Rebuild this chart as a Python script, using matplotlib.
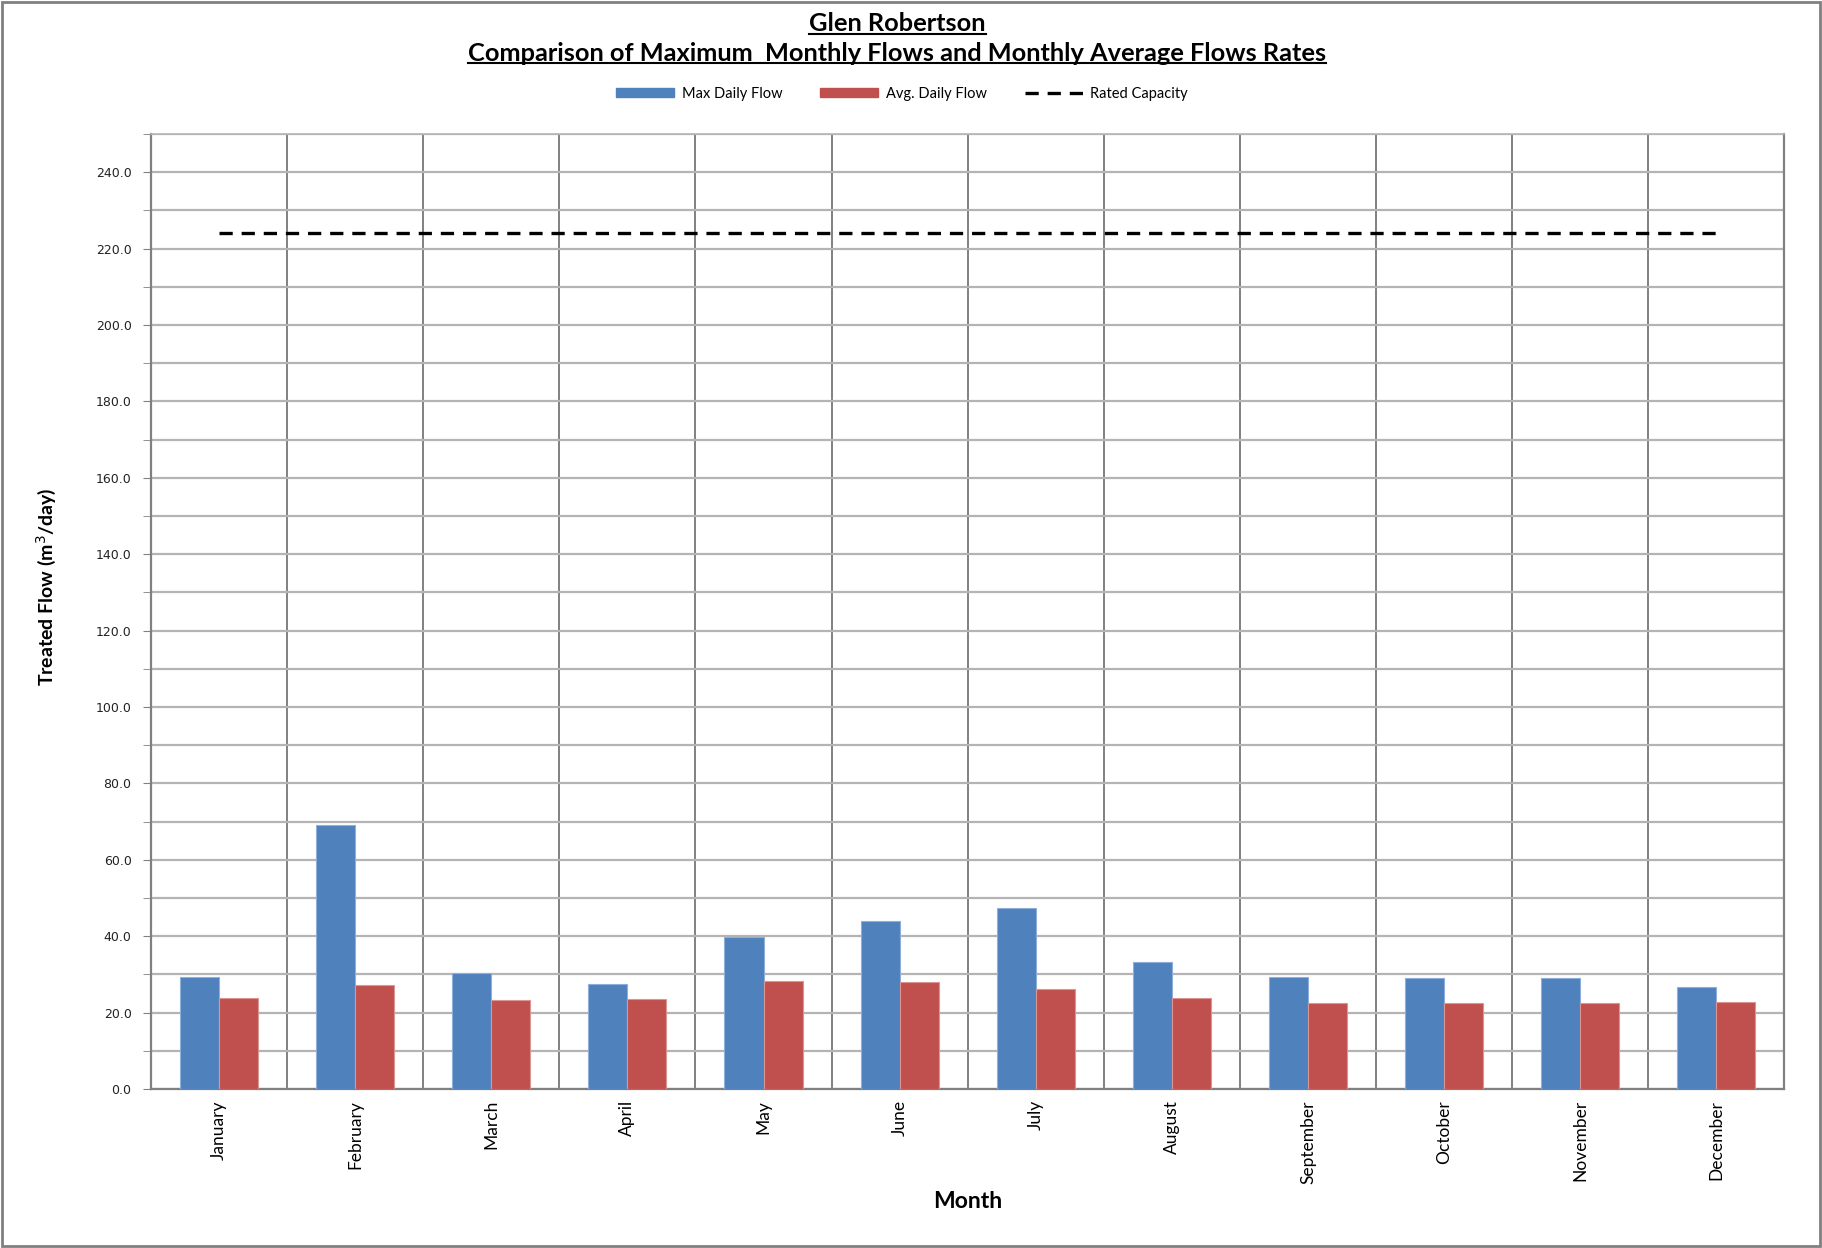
import matplotlib
matplotlib.use("Agg")
import matplotlib.pyplot as plt
import numpy as np
from matplotlib.patches import Patch, Rectangle
from matplotlib.lines import Line2D
from matplotlib.ticker import MultipleLocator, FormatStrFormatter

months = ["January", "February", "March", "April", "May", "June", "July",
          "August", "September", "October", "November", "December"]
max_daily_flow = [29.4, 69.2, 30.4, 27.6, 39.9, 44.1, 47.5, 33.2, 29.4, 29.1, 29.1, 26.8]
avg_daily_flow = [23.9, 27.1, 23.2, 23.6, 28.2, 27.9, 26.1, 23.9, 22.4, 22.6, 22.4, 22.9]
rated_capacity = [224.0] * 12

HUMANIST = ["Lato", "DejaVu Sans"]
BLUE = "#4F81BD"
RED = "#C0504D"
DASHES = (3.97, 2.67)

fig = plt.figure(figsize=(18.22, 12.48), dpi=100)
ax = fig.add_axes([0.0829, 0.1274, 0.8964, 0.7652])

x = np.arange(len(months))
w = 0.287
ax.bar(x - w / 2, max_daily_flow, w, color=BLUE, edgecolor="#8EAEDB", linewidth=0.8, zorder=3)
ax.bar(x + w / 2, avg_daily_flow, w, color=RED, edgecolor="#DD9593", linewidth=0.8, zorder=3)
ax.plot(x, rated_capacity, color="black", linewidth=2.4, dashes=DASHES, zorder=4)

ax.set_xlim(-0.5, len(months) - 0.5)
ax.set_ylim(0, 250)
ax.yaxis.set_major_locator(MultipleLocator(20))
ax.yaxis.set_minor_locator(MultipleLocator(10))
ax.yaxis.set_major_formatter(FormatStrFormatter("%.1f"))
ax.grid(axis="y", which="both", color="#B4B4B4", linewidth=1.6, zorder=0)

# vertical separators between months
for b in np.arange(0.5, len(months) - 0.5, 1.0):
    ax.axvline(b, color="#808080", linewidth=1.4, zorder=1)

ax.set_xticks(x)
ax.set_xticklabels(months, rotation=90, family=HUMANIST, fontsize=12.5)
ax.tick_params(axis="x", length=0, pad=8)
ax.tick_params(axis="y", which="both", length=6, color="#808080", labelsize=9,
               labelcolor="#222222", pad=8)

for side in ["left", "bottom", "right"]:
    ax.spines[side].set_color("#808080")
    ax.spines[side].set_linewidth(1.6)
ax.spines["top"].set_color("#B4B4B4")
ax.spines["top"].set_linewidth(1.2)

fig.text(0.0253, 0.5298, "Treated Flow (m$^3$/day)", rotation=90, ha="center", va="center",
         family=HUMANIST, fontsize=14, fontweight="bold")
fig.text(0.531, 0.0375, "Month", ha="center", va="center",
         family=HUMANIST, fontsize=16.5, fontweight="bold")

t1 = fig.text(0.4925, 0.9808, "Glen Robertson", ha="center", va="center",
              family=HUMANIST, fontsize=18.3, fontweight="bold")
t2 = fig.text(0.4925, 0.957, "Comparison of Maximum  Monthly Flows and Monthly Average Flows Rates",
              ha="center", va="center", family=HUMANIST, fontsize=18.3, fontweight="bold")

handles = [Patch(facecolor=BLUE, edgecolor=BLUE),
           Patch(facecolor=RED, edgecolor=RED),
           Line2D([0], [0], color="black", linewidth=2.4, dashes=DASHES)]
fig.legend(handles, ["Max Daily Flow", "Avg. Daily Flow", "Rated Capacity"],
           loc="center", bbox_to_anchor=(0.495, 0.9247), ncol=3, frameon=False,
           prop={"family": HUMANIST, "size": 10.5}, handlelength=4.0, handleheight=0.6,
           columnspacing=2.6, handletextpad=0.5)

# underline the two title lines
fig.canvas.draw()
renderer = fig.canvas.get_renderer()
inv = fig.transFigure.inverted()
for t in (t1, t2):
    bb = t.get_window_extent(renderer)
    (x0, y0), (x1, _) = inv.transform([(bb.x0, bb.y0), (bb.x1, bb.y1)])
    fig.add_artist(Line2D([x0, x1], [y0 + 0.0015, y0 + 0.0015], color="black",
                          linewidth=1.5, transform=fig.transFigure))

# outer chart border
fig.add_artist(Rectangle((0.001, 0.0015), 0.998, 0.997, transform=fig.transFigure,
                         fill=False, edgecolor="#808080", linewidth=2))

fig.savefig("out.png", dpi=100)
